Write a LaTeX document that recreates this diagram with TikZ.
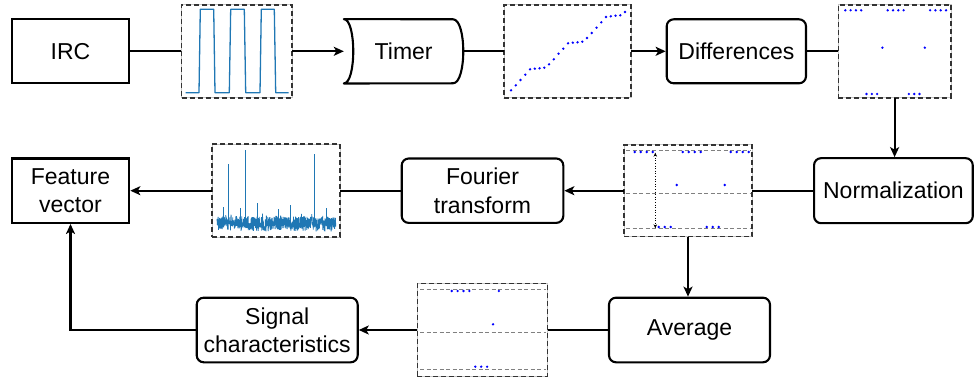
\documentclass[tikz,border=0pt]{standalone}
\usepackage{fontspec}
\setmainfont{Liberation Sans}
\usetikzlibrary{arrows.meta}
\definecolor{mplblue}{RGB}{31,119,180}
\definecolor{dotblue}{RGB}{0,0,255}

% three-level scatter: n+1 points starting at x0 with step dx,
% repeating 4 top / 3 bottom / 1 middle
\newcommand{\levelpts}[6]{%
  \foreach \k in {0,...,#3}{%
    \pgfmathtruncatemacro\m{mod(\k,8)}%
    \ifnum\m<4 \def\yy{#4}\else\ifnum\m<7 \def\yy{#5}\else\def\yy{#6}\fi\fi
    \fill[dotblue] ({#1+#2*\k},\yy) circle (1.3pt);
  }%
}

\begin{document}
\begin{tikzpicture}[x=1pt,y=-1pt,
  every node/.style={font=\fontsize{23}{28.3}\selectfont, align=center, inner sep=0pt},
  block/.style={draw, line width=2.1pt, minimum height=64pt},
  roundblock/.style={block, rounded corners=7pt},
  plotbox/.style={draw=gray!45, line width=0.8pt, minimum height=93pt,
    postaction={draw=black!80, line width=1.5pt, dash pattern=on 5pt off 3pt}},
  conn/.style={line width=2.1pt},
  arr/.style={conn, -{Stealth[length=10pt,width=9pt,inset=2.5pt]}},
  guide/.style={gray, line width=0.9pt, dash pattern=on 4pt off 2.5pt},
]
\useasboundingbox (0,0) rectangle (974,379);

% ---- first row ----
\node[block, minimum width=117.6pt] (irc) at (70.5,51.3) {IRC};
\node[plotbox, minimum width=110.3pt] (p1) at (236.85,51.3) {};
\node[minimum width=119.3pt, minimum height=64pt] (timer) at (403.65,51.3) {Timer};
\node[plotbox, minimum width=127pt] (p2) at (567.5,51.3) {};
\node[roundblock, minimum width=139.3pt] (diff) at (736.35,51.3) {Differences};
\node[plotbox, minimum width=112.7pt] (p3) at (894.6,51.3) {};

% ---- second row ----
\node[roundblock, minimum width=158.7pt, minimum height=65pt] (norm) at (893.4,190.7) {Normalization};
\node[plotbox, minimum width=128pt, minimum height=91.7pt] (p4) at (688,190.7) {};
\node[roundblock, minimum width=161.6pt, minimum height=64.4pt] (fourier) at (482.5,190.7) {Fourier\\transform};
\node[plotbox, minimum width=128pt] (p5) at (276,190.7) {};
\node[block, minimum width=117.6pt, minimum height=64.4pt] (feat) at (70.5,190.7) {Feature\\vector};

% ---- third row ----
\node[roundblock, minimum width=161pt, minimum height=64.6pt] (avg) at (689.5,330) {Average};
\node[plotbox, minimum width=130pt, minimum height=92.7pt] (p6) at (482.3,330) {};
\node[roundblock, minimum width=161pt, minimum height=64.6pt] (sig) at (277.2,330) {Signal\\characteristics};

% timer outline: concave left side, convex right side
\draw[line width=2.1pt, line join=round]
  (timer.north west) -- (453,19.3)
  .. controls (466.7,19.3) and (466.7,83.3) .. (453,83.3)
  -- (timer.south west)
  .. controls (356.4,83.3) and (356.4,19.3) .. (timer.north west) -- cycle;

% ---- connectors ----
\draw[conn] (irc) -- (p1);
\draw[arr] (p1) -- (timer);
\draw[conn] (timer.east) -- (p2);
\draw[arr] (p2) -- (diff);
\draw[conn] (diff) -- (p3);
\draw[arr] (p3.south) -- (p3.south |- norm.north);
\draw[conn] (norm) -- (p4);
\draw[arr] (p4) -- (fourier);
\draw[conn] (fourier) -- (p5);
\draw[arr] (p5) -- (feat);
\draw[arr] (p4.south) -- (p4.south |- avg.north);
\draw[conn] (avg) -- (p6);
\draw[arr] (p6) -- (sig);
\draw[arr] (sig.west) -| (feat.south);

% ---- plot contents ----
% square wave
\draw[mplblue, line width=1.3pt, line join=round]
  (185.7,92.7) -- (199,92.7) -- (200.3,9.3) -- (213.7,9.3) -- (215,92.7)
  -- (229.3,92.7) -- (230.7,9.3) -- (244.3,9.3) -- (245.7,92.7)
  -- (260,92.7) -- (261.3,9.3) -- (274.3,9.3) -- (275.7,92.7) -- (288.7,92.7);

% timer counts
\foreach \i/\yy in {0/90.3,1/85.3,2/80,3/74.7,4/69.3,5/68.7,6/68.3,7/67.7,
  8/64.3,9/59.3,10/53.7,11/48.7,12/43.3,13/42.7,14/42.3,15/41.7,
  16/38,17/33,18/27.7,19/22.3,20/17,21/16.3,22/15.7,23/15.3,24/12}
  \fill[dotblue] ({511+4.75*\i},\yy) circle (1.3pt);

% differences
\levelpts{845.3}{5.3}{19}{10.3}{94}{47.7}

% normalized differences
\draw[guide] (626,150) -- (750,150);
\draw[guide] (626,193.3) -- (750,193.3);
\draw[guide] (626,228.7) -- (750,228.7);
\levelpts{634.7}{6}{19}{152}{227}{185}
\draw[line width=0.9pt, dash pattern=on 1pt off 1.6pt,
  {Stealth[length=4pt,width=3.5pt]}-{Stealth[length=4pt,width=3.5pt]}]
  (655.3,152.7) -- (655.3,228.3);

% averaged differences
\draw[guide] (420,289) -- (546,289);
\draw[guide] (420,332.3) -- (546,332.3);
\draw[guide] (420,369) -- (546,369);
\levelpts{451.7}{5.9}{8}{291}{366.7}{324.3}

% spectrum
\pgfmathsetseed{12}
\draw[mplblue, line width=0.8pt, line join=bevel]
  plot[domain=217:335.7, samples=650] (\x,{231.5-14*rnd-5*rnd*rnd});
\draw[mplblue, line width=0.8pt]
  (228.7,224) -- (228.7,163.7)
  (245,224) -- (245,150.3)
  (314,224) -- (314,153.7)
  (257.3,224) -- (257.3,202.7)
  (290.3,224) -- (290.3,204.7)
  (223,224) -- (223,207)
  (240,224) -- (240,208)
  (278,224) -- (278,209)
  (326,224) -- (326,208);
\end{tikzpicture}
\end{document}
